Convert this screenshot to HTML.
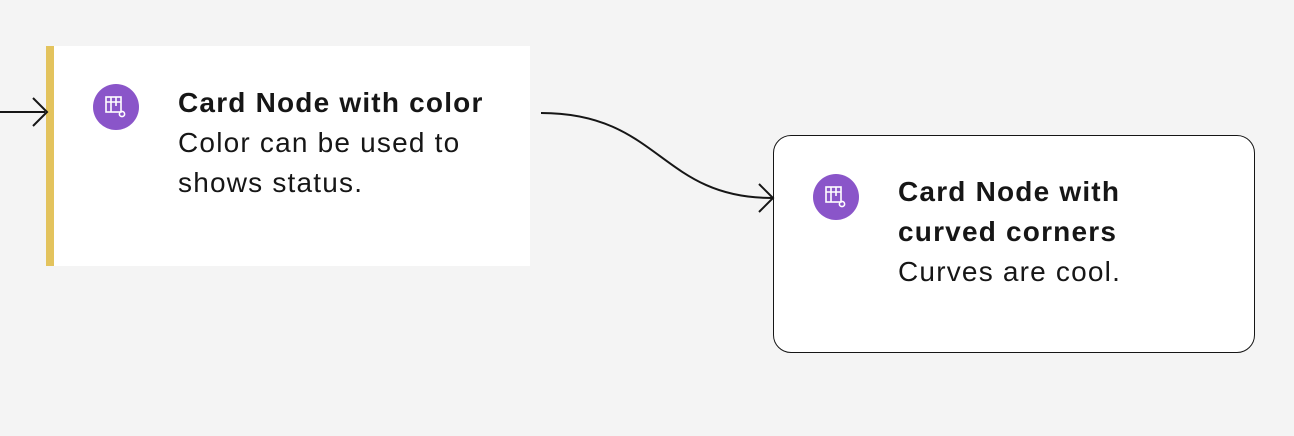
<!DOCTYPE html>
<html><head><style>
body{margin:0;width:1294px;height:436px;background:#f4f4f4;position:relative;overflow:hidden;font-family:"Liberation Sans",sans-serif;color:#161616}
.t{position:absolute;font-size:28px;line-height:40px;white-space:nowrap;letter-spacing:1.2px}
.b{font-weight:bold}
.ic{position:absolute;width:46px;height:46px;border-radius:50%;background:#8a55c9}
</style></head><body>
<div style="position:absolute;left:46px;top:46px;width:484px;height:220px;background:#fff"></div>
<div style="position:absolute;left:46px;top:46px;width:8px;height:220px;background:#e3c35d"></div>
<div style="position:absolute;left:773px;top:135px;width:480px;height:216px;background:#fff;border:1.5px solid #161616;border-radius:18px"></div>
<svg style="position:absolute;left:0;top:0" width="1294" height="436">
<g fill="none" stroke="#161616" stroke-width="2">
<path d="M0 112 H45"/><path d="M33 98 L47 112 L33 126"/>
<path d="M541 113 C660 113 660 198 772 198"/><path d="M759 184 L773 198 L759 212"/>
</g>
</svg>
<div class="ic" style="left:93px;top:84px"></div>
<div class="ic" style="left:813px;top:174px"></div>
<svg style="position:absolute;left:0;top:0" width="1294" height="436">
<g stroke="#fff" stroke-width="1.6" fill="none">
<g transform="translate(106,97)"><rect x="0" y="0" width="15" height="15"/><path d="M0 5H15M5 0V15M10 0V9"/><circle cx="16" cy="17" r="2.6"/></g>
<g transform="translate(826,187)"><rect x="0" y="0" width="15" height="15"/><path d="M0 5H15M5 0V15M10 0V9"/><circle cx="16" cy="17" r="2.6"/></g>
</g>
</svg>
<div class="t b" style="left:178px;top:83px">Card Node with color</div>
<div class="t" style="left:178px;top:123px">Color can be used to</div>
<div class="t" style="left:178px;top:163px">shows status.</div>
<div class="t b" style="left:898px;top:172px">Card Node with</div>
<div class="t b" style="left:898px;top:212px">curved corners</div>
<div class="t" style="left:898px;top:252px">Curves are cool.</div>
</body></html>
